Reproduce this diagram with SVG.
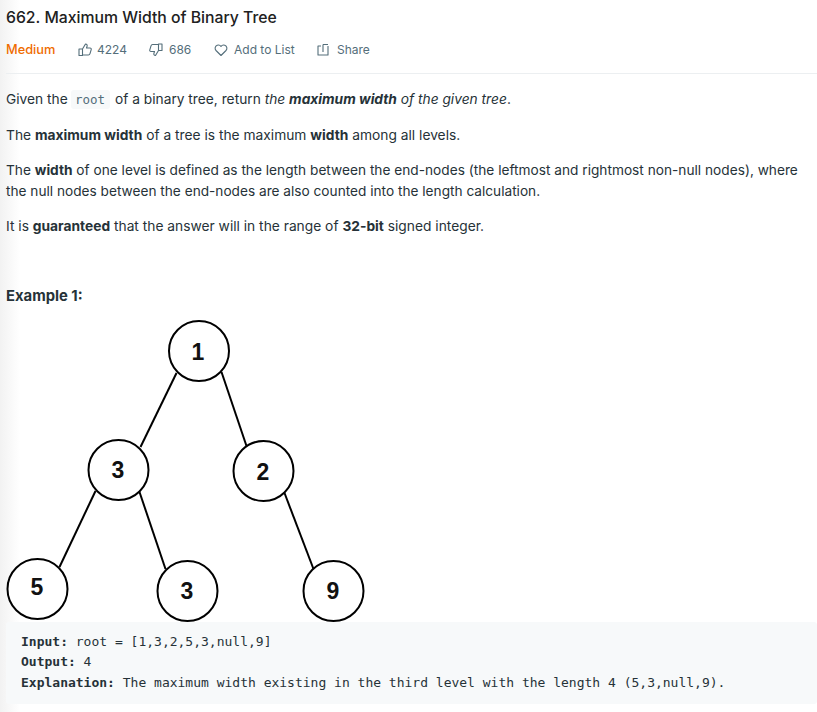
<svg xmlns="http://www.w3.org/2000/svg" width="817" height="712" viewBox="0 0 817 712">
<style>
text{font-family:Inter,"Liberation Sans",sans-serif;fill:#263238;font-size:13.75px}
.b{font-weight:700}
.bi{font-weight:700;font-style:italic}
.i{font-style:italic}
.m{font-family:"DejaVu Sans Mono",monospace;font-size:13px;fill:#263238}
.meta{font-size:12px;fill:#546e7a}
.ic{fill:none;stroke:#546e7a;stroke-width:1.1;stroke-linejoin:round}
.n circle{fill:#fff;stroke:#000;stroke-width:2}
.n text{font-family:"Liberation Sans",Arial,sans-serif;font-size:23px;font-weight:700;fill:#111;text-anchor:middle}
#connectors line{stroke:#000;stroke-width:2}
</style>
<defs><linearGradient id="edge" x1="0" x2="1" y1="0" y2="0"><stop offset="0" stop-color="#f2f2f2"/><stop offset="1" stop-color="#fff"/></linearGradient></defs>
<rect width="817" height="712" fill="#fff"/>
<rect width="20" height="712" fill="url(#edge)"/>
<text x="6" y="23" style="font-size:15.770px;font-weight:500;fill:#212121">662. Maximum Width of Binary Tree</text>
<text x="6" y="54" style="font-size:12.800px;font-weight:500;fill:#ef6c00">Medium</text>
<path class="ic" d="M79 49h3.500v6.500h-3.500zM82.500 49l3-5c1.500 0 2 1 1.500 2.500l-.5 1.500h3.500c1 0 1.500.8 1.200 1.700l-1.200 4c-.2.700-.8 1.300-1.600 1.300h-6.400"/>
<text class="meta" x="97" y="54">4224</text>
<path class="ic" d="M162 44v6.500h-3.500v-6.500zM158.500 50.500l-3 5c-1.500 0-2-1-1.500-2.500l.5-1.500h-3.500c-1 0-1.500-.8-1.200-1.700l1.200-4c.2-.7.8-1.300 1.600-1.300h6.400"/>
<text class="meta" x="169" y="54">686</text>
<path class="ic" d="M221 55.500l-5-5c-1.600-1.700-1-4.500 1.200-5.300 1.500-.5 3 0 3.800 1.300.8-1.300 2.300-1.800 3.800-1.300 2.200.8 2.800 3.600 1.200 5.300z"/>
<text class="meta" x="234" y="54">Add to List</text>
<path class="ic" d="M321 46h-3v9h10v-9M323 52v-7.500M323 44.500h5"/>
<text class="meta" x="337" y="54">Share</text>
<rect x="6" y="73" width="811" height="1" fill="#eceff1"/>
<rect x="71" y="90" width="39" height="19" rx="3" fill="#f7f9fa"/>
<text x="6" y="104">Given the</text>
<text x="75" y="104" style="font-family:'DejaVu Sans Mono',monospace;font-size:12.500px;fill:#546e7a">root</text>
<text x="115" y="104" style="font-size:13.760px">of a binary tree, return <tspan class="i">the </tspan><tspan class="bi">maximum width</tspan><tspan class="i"> of the given tree</tspan>.</text>
<text x="6" y="140" style="font-size:13.790px">The <tspan class="b">maximum width</tspan> of a tree is the maximum <tspan class="b">width</tspan> among all levels.</text>
<text x="6" y="175" style="font-size:13.690px">The <tspan class="b">width</tspan> of one level is defined as the length between the end-nodes (the leftmost and rightmost non-null nodes), where</text>
<text x="6" y="196" style="font-size:13.670px">the null nodes between the end-nodes are also counted into the length calculation.</text>
<text x="6" y="231" style="font-size:13.790px">It is <tspan class="b">guaranteed</tspan> that the answer will in the range of <tspan class="b">32-bit</tspan> signed integer.</text>
<text class="b" x="6" y="301" style="font-size:14.800px">Example 1:</text>
<g id="connectors">
<line x1="176.500" y1="373" x2="140.500" y2="447"/>
<line x1="221.500" y1="372" x2="246.500" y2="446"/>
<line x1="95.500" y1="491" x2="59.500" y2="567"/>
<line x1="139.500" y1="492" x2="165.500" y2="569"/>
<line x1="284.500" y1="493" x2="313.500" y2="569"/>
</g>
<g id="node-1" class="n"><circle cx="199" cy="351" r="30"/><text x="198" y="360">1</text></g>
<g id="node-3a" class="n"><circle cx="118.500" cy="470" r="30"/><text x="118" y="478">3</text></g>
<g id="node-2" class="n"><circle cx="263.500" cy="471" r="30"/><text x="263" y="480">2</text></g>
<g id="node-5" class="n"><circle cx="37.500" cy="589" r="30"/><text x="37" y="595">5</text></g>
<g id="node-3b" class="n"><circle cx="187.500" cy="591" r="30"/><text x="187" y="599">3</text></g>
<g id="node-9" class="n"><circle cx="333.500" cy="591" r="30"/><text x="333" y="599">9</text></g>
<rect x="6" y="622" width="811" height="82" rx="3" fill="#f7f9fa"/>
<text class="m" x="21" y="646"><tspan font-weight="700">Input:</tspan> root = [1,3,2,5,3,null,9]</text>
<text class="m" x="21" y="666"><tspan font-weight="700">Output:</tspan> 4</text>
<text class="m" x="21" y="687"><tspan font-weight="700">Explanation:</tspan> The maximum width existing in the third level with the length 4 (5,3,null,9).</text>
</svg>
